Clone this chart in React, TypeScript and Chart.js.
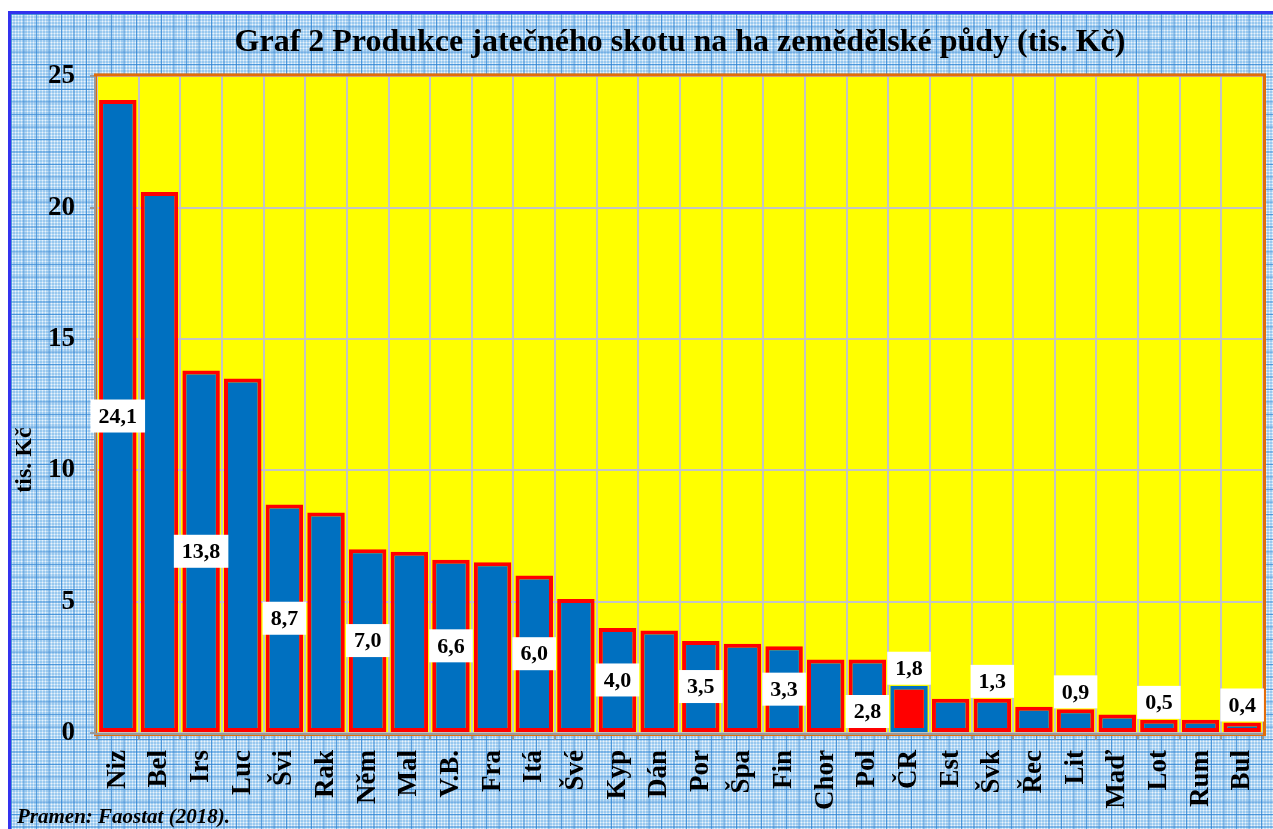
import React, { useEffect, useRef } from 'react';
import { Chart, registerables } from 'chart.js';

Chart.register(...registerables);

const titleText = 'Graf 2 Produkce jatečného skotu na ha zemědělské půdy (tis. Kč)';
const yTitle = 'tis. Kč';
const sourceText = 'Pramen: Faostat (2018).';

const categories = ['Niz', 'Bel', 'Irs', 'Luc', 'Švi', 'Rak', 'Něm', 'Mal', 'V.B.', 'Fra', 'Itá', 'Švé', 'Kyp', 'Dán', 'Por', 'Špa', 'Fin', 'Chor', 'Pol', 'ČR', 'Est', 'Švk', 'Řec', 'Lit', 'Maď', 'Lot', 'Rum', 'Bul'];
const values = [24.1, 20.6, 13.8, 13.5, 8.7, 8.4, 7.0, 6.9, 6.6, 6.5, 6.0, 5.1, 4.0, 3.9, 3.5, 3.4, 3.3, 2.8, 2.8, 1.8, 1.3, 1.3, 1.0, 0.9, 0.7, 0.5, 0.5, 0.4];
// label placement: c = centre of bar, o = above bar end, b = near base, '' = none
const labelModes = ['c', '', 'c', '', 'c', '', 'c', '', 'c', '', 'c', '', 'c', '', 'c', '', 'c', '', 'b', 'o', '', 'o', '', 'o', '', 'o', '', 'o'];
const highlight = 'ČR';
const yTicks = [0, 5, 10, 15, 20, 25];

const FONT = '"Liberation Serif", "Times New Roman", serif';

const plotPlugin = {
  id: 'plotDecor',
  beforeDraw(chart: any) {
    const { ctx, chartArea: a } = chart;
    ctx.save();
    ctx.fillStyle = '#ffff00';
    ctx.fillRect(a.left, a.top, a.right - a.left, a.bottom - a.top);
    ctx.restore();
  },
  beforeDatasetsDraw(chart: any) {
    const { ctx, chartArea: a } = chart;
    ctx.save();
    ctx.strokeStyle = '#e36c09';
    ctx.lineWidth = 3;
    ctx.strokeRect(a.left - 1.5, a.top - 1.5, a.right - a.left + 3, a.bottom - a.top + 3);
    ctx.strokeStyle = '#9a9a9a';
    ctx.lineWidth = 2;
    ctx.beginPath();
    ctx.moveTo(a.left - 2, a.top);
    ctx.lineTo(a.left - 2, a.bottom + 1);
    ctx.lineTo(a.right, a.bottom + 1);
    ctx.stroke();
    ctx.restore();
  },
  afterDatasetsDraw(chart: any) {
    const meta = chart.getDatasetMeta(0);
    const ctx = chart.ctx;
    ctx.save();
    ctx.font = `bold 22px ${FONT}`;
    ctx.textAlign = 'center';
    ctx.textBaseline = 'middle';
    meta.data.forEach((bar: any, i: number) => {
      const mode = labelModes[i];
      if (!mode) return;
      const txt = values[i].toFixed(1).replace('.', ',');
      const w = ctx.measureText(txt).width + 16;
      const h = 33;
      const { x, y, base } = bar.getProps(['x', 'y', 'base'], true);
      let cy: number;
      if (mode === 'c') cy = (y + base) / 2;
      else if (mode === 'o') cy = y - h / 2 - 1;
      else cy = base - 4 - h / 2;
      ctx.fillStyle = '#ffffff';
      ctx.fillRect(x - w / 2, cy - h / 2, w, h);
      ctx.fillStyle = '#000000';
      ctx.fillText(txt, x, cy + 1);
    });
    ctx.restore();
  },
  afterDraw(chart: any) {
    const { ctx } = chart;
    ctx.save();
    ctx.fillStyle = '#000';
    ctx.font = `bold 24px ${FONT}`;
    ctx.textAlign = 'center';
    ctx.textBaseline = 'middle';
    ctx.translate(14, 446);
    ctx.rotate(-Math.PI / 2);
    ctx.fillText(yTitle, 0, 0);
    ctx.restore();
    ctx.save();
    ctx.fillStyle = '#000';
    ctx.font = `italic bold 21px ${FONT}`;
    ctx.textAlign = 'left';
    ctx.textBaseline = 'alphabetic';
    ctx.fillText(sourceText, 6, 809);
    ctx.restore();
  },
};

export default function App() {
  const ref = useRef<HTMLCanvasElement | null>(null);
  useEffect(() => {
    if (!ref.current) return;
    const tickFont = { family: FONT, size: 27, weight: 'bold' as const };
    const chart = new Chart(ref.current, {
      type: 'bar',
      data: {
        labels: categories,
        datasets: [
          {
            data: values,
            backgroundColor: categories.map((c) => (c === highlight ? '#ff0000' : '#0070c0')),
            borderColor: categories.map((c) => (c === highlight ? '#0070c0' : '#ff0000')),
            borderWidth: 4,
            borderSkipped: false,
            categoryPercentage: 1,
            barPercentage: 0.9,
          },
        ],
      },
      options: {
        responsive: false,
        animation: false,
        layout: { padding: { left: 0, right: 0, top: 0, bottom: 0 } },
        plugins: {
          legend: { display: false },
          tooltip: { enabled: false },
          title: {
            display: true,
            text: titleText,
            fullSize: false,
            color: '#000',
            font: { family: FONT, size: 32, weight: 'bold' },
            padding: { top: 10, bottom: 14 },
          },
        },
        scales: {
          x: {
            offset: true,
            grid: { offset: true, color: '#c4c4c4', lineWidth: 2, tickLength: 7, tickColor: '#999', tickWidth: 2 },
            border: { display: false },
            ticks: { color: '#000', font: tickFont, maxRotation: 90, minRotation: 90, padding: 10, autoSkip: false },
            afterFit: (s: any) => {
              s.height = 96;
              s.paddingLeft = 0;
              s.paddingRight = 10;
            },
          },
          y: {
            min: 0,
            max: 25,
            afterBuildTicks: (s: any) => {
              s.ticks = yTicks.map((v) => ({ value: v }));
            },
            grid: { color: '#c4c4c4', lineWidth: 2, tickLength: 7, tickColor: '#999', tickWidth: 2 },
            border: { display: false },
            ticks: { color: '#000', font: tickFont, padding: 15 },
            afterFit: (s: any) => {
              s.width = 86;
              s.paddingTop = 0;
              s.paddingBottom = 0;
            },
          },
        },
      },
      plugins: [plotPlugin],
    });
    return () => chart.destroy();
  }, []);

  const bg: React.CSSProperties = {
    position: 'absolute',
    left: 8,
    top: 11,
    width: 1265,
    height: 818,
    boxSizing: 'border-box',
    borderLeft: '3px solid #3333ee',
    borderTop: '3px solid #3333ee',
    backgroundColor: '#98c8ef',
    backgroundImage:
      'linear-gradient(90deg, rgba(45,130,210,0.75) 1px, transparent 1px), linear-gradient(180deg, rgba(45,130,210,0.75) 1px, transparent 1px), radial-gradient(circle, rgba(255,255,255,0.8) 0.9px, transparent 1.1px)',
    backgroundSize: '12.5px 12.5px, 12.5px 12.5px, 3px 3px',
    overflow: 'hidden',
  };

  return (
    <div style={bg}>
      <canvas ref={ref} width={1262} height={815} style={{ display: 'block', width: 1262, height: 815 }} />
    </div>
  );
}
